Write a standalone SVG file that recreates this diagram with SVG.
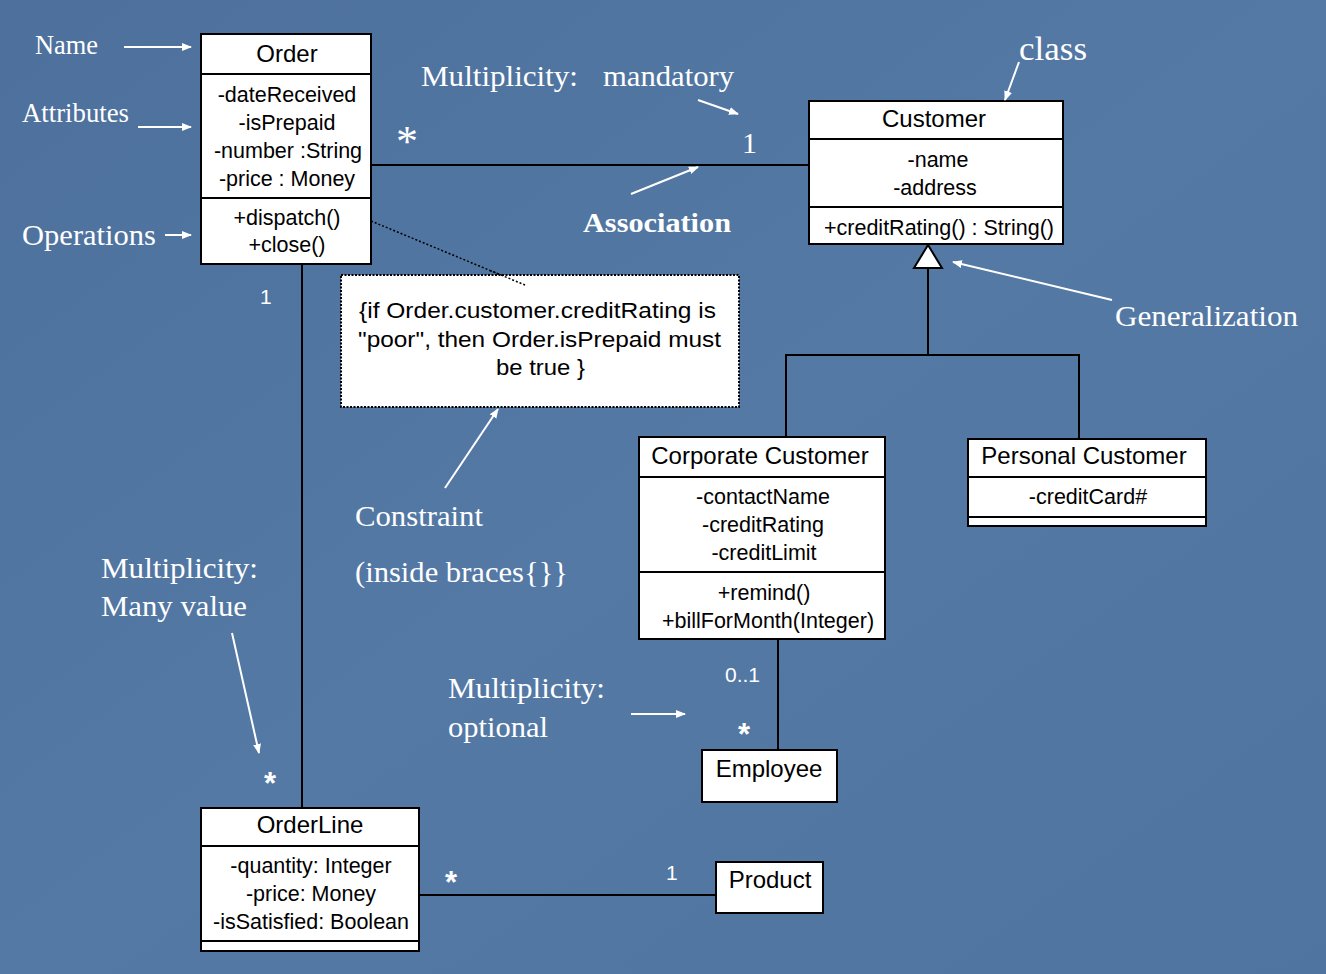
<svg xmlns="http://www.w3.org/2000/svg" width="1326" height="974" viewBox="0 0 1326 974">
<style>
.box{fill:#fff;stroke:#000;stroke-width:2}
.div{stroke:#000;stroke-width:2}
.t{font-family:"Liberation Sans",Arial,sans-serif;font-size:21.5px;fill:#000;text-anchor:middle}
.n{font-size:24px}
.lbl{font-family:"Liberation Serif","Times New Roman",serif;fill:#fff}
.m{font-family:"Liberation Sans",Arial,sans-serif;fill:#fff;font-size:21px}
.ast{font-family:"Liberation Sans",Arial,sans-serif;fill:#fff;font-size:31px;font-weight:bold}
.con{stroke:#000;stroke-width:2;fill:none}
.ann{stroke:#fff;stroke-width:2;fill:none;marker-end:url(#wa)}
</style>
<defs>
<marker id="wa" viewBox="0 0 10 10" refX="9" refY="5" markerWidth="5" markerHeight="5" orient="auto" markerUnits="strokeWidth">
<path d="M0,1 L10,5 L0,9 z" fill="#fff"/>
</marker>
<linearGradient id="bg" x1="0" y1="0" x2="1" y2="1">
<stop offset="0" stop-color="#4d709c"/>
<stop offset="0.5" stop-color="#5479a5"/>
<stop offset="1" stop-color="#4f74a0"/>
</linearGradient>
</defs>
<rect x="0" y="0" width="1326" height="974" fill="url(#bg)"/>

<g id="connectors">
<line class="con" x1="371" y1="165" x2="809" y2="165"/>
<line class="con" x1="302" y1="264" x2="302" y2="808"/>
<line class="con" x1="419" y1="895" x2="716" y2="895"/>
<line class="con" x1="778" y1="639" x2="778" y2="750"/>
<polyline class="con" points="786,437 786,355 1079,355 1079,439"/>
<line class="con" x1="928" y1="355" x2="928" y2="268"/>
<polygon points="928,245 914,268 942,268" fill="#fff" stroke="#000" stroke-width="2"/>
<line x1="371" y1="221" x2="525" y2="285" stroke="#000" stroke-width="1.5" stroke-dasharray="2,2"/>
</g>

<g id="note">
<rect x="341" y="275" width="398" height="132" fill="#fff" stroke="#000" stroke-width="2" stroke-dasharray="2,1.5"/>
<line x1="490" y1="270.5" x2="525" y2="285" stroke="#000" stroke-width="1.5" stroke-dasharray="2,2"/>
<text class="t" x="537.5" y="318" font-size="22" textLength="357" lengthAdjust="spacingAndGlyphs">{if Order.customer.creditRating is</text>
<text class="t" x="539.5" y="347" font-size="22" textLength="363" lengthAdjust="spacingAndGlyphs">"poor", then Order.isPrepaid must</text>
<text class="t" x="540.5" y="375" font-size="22" textLength="89" lengthAdjust="spacingAndGlyphs">be true }</text>
</g>

<g id="Order">
<rect class="box" x="201" y="34" width="170" height="230"/>
<line class="div" x1="201" y1="74" x2="371" y2="74"/>
<line class="div" x1="201" y1="198" x2="371" y2="198"/>
<text class="t n" x="287" y="62">Order</text>
<text class="t" x="287" y="102">-dateReceived</text>
<text class="t" x="287" y="130">-isPrepaid</text>
<text class="t" x="288" y="158">-number :String</text>
<text class="t" x="287" y="186">-price : Money</text>
<text class="t" x="287" y="225">+dispatch()</text>
<text class="t" x="287" y="252">+close()</text>
</g>

<g id="Customer">
<rect class="box" x="809" y="101" width="254" height="143"/>
<line class="div" x1="809" y1="139" x2="1063" y2="139"/>
<line class="div" x1="809" y1="207" x2="1063" y2="207"/>
<text class="t n" x="934" y="127">Customer</text>
<text class="t" x="938" y="167">-name</text>
<text class="t" x="935" y="195">-address</text>
<text class="t" x="939" y="235">+creditRating() : String()</text>
</g>

<g id="CorporateCustomer">
<rect class="box" x="639" y="437" width="246" height="202"/>
<line class="div" x1="639" y1="477" x2="885" y2="477"/>
<line class="div" x1="639" y1="572" x2="885" y2="572"/>
<text class="t n" x="760" y="464">Corporate Customer</text>
<text class="t" x="763" y="504">-contactName</text>
<text class="t" x="763" y="532">-creditRating</text>
<text class="t" x="764" y="560">-creditLimit</text>
<text class="t" x="764" y="600">+remind()</text>
<text class="t" x="768" y="628">+billForMonth(Integer)</text>
</g>

<g id="PersonalCustomer">
<rect class="box" x="968" y="439" width="238" height="87"/>
<line class="div" x1="968" y1="477" x2="1206" y2="477"/>
<line class="div" x1="968" y1="517" x2="1206" y2="517"/>
<text class="t n" x="1084" y="464">Personal Customer</text>
<text class="t" x="1088" y="504">-creditCard#</text>
</g>

<g id="Employee">
<rect class="box" x="702" y="750" width="135" height="52"/>
<text class="t n" x="769" y="777">Employee</text>
</g>

<g id="OrderLine">
<rect class="box" x="201" y="808" width="218" height="143"/>
<line class="div" x1="201" y1="846" x2="419" y2="846"/>
<line class="div" x1="201" y1="941" x2="419" y2="941"/>
<text class="t n" x="310" y="833">OrderLine</text>
<text class="t" x="311" y="873">-quantity: Integer</text>
<text class="t" x="311" y="901">-price: Money</text>
<text class="t" x="311" y="929">-isSatisfied: Boolean</text>
</g>

<g id="Product">
<rect class="box" x="716" y="862" width="107" height="51"/>
<text class="t n" x="770" y="888">Product</text>
</g>

<g id="multiplicities">
<text class="lbl" x="396" y="156" font-size="44">*</text>
<text class="lbl" x="742" y="153" font-size="30">1</text>
<text class="m" x="260" y="304">1</text>
<text class="ast" x="264" y="794">*</text>
<text class="m" x="725" y="682">0..1</text>
<text class="ast" x="738" y="745">*</text>
<text class="ast" x="445" y="893">*</text>
<text class="m" x="666" y="880">1</text>
</g>

<g id="annotations">
<text class="lbl" x="35" y="54" font-size="27" textLength="63" lengthAdjust="spacingAndGlyphs">Name</text>
<text class="lbl" x="22" y="122" font-size="27" textLength="107" lengthAdjust="spacingAndGlyphs">Attributes</text>
<text class="lbl" x="22" y="245" font-size="30" textLength="134" lengthAdjust="spacingAndGlyphs">Operations</text>
<line class="ann" x1="124" y1="47" x2="191" y2="47"/>
<line class="ann" x1="138" y1="127" x2="191" y2="127"/>
<line class="ann" x1="165" y1="235" x2="191" y2="235"/>
<text class="lbl" x="421" y="86" font-size="30" textLength="157" lengthAdjust="spacingAndGlyphs">Multiplicity:</text>
<text class="lbl" x="603" y="86" font-size="30" textLength="131" lengthAdjust="spacingAndGlyphs">mandatory</text>
<line class="ann" x1="698" y1="100" x2="738" y2="114"/>
<line class="ann" x1="631" y1="194" x2="698" y2="167"/>
<text class="lbl" x="583" y="232" font-size="28" font-weight="bold" textLength="148" lengthAdjust="spacingAndGlyphs">Association</text>
<text class="lbl" x="1019" y="60" font-size="33" textLength="68" lengthAdjust="spacingAndGlyphs">class</text>
<line class="ann" x1="1019" y1="62" x2="1005" y2="100"/>
<line class="ann" x1="1112" y1="300" x2="953" y2="262"/>
<text class="lbl" x="1115" y="326" font-size="30" textLength="183" lengthAdjust="spacingAndGlyphs">Generalization</text>
<line class="ann" x1="445" y1="488" x2="498" y2="409"/>
<text class="lbl" x="355" y="526" font-size="30" textLength="128" lengthAdjust="spacingAndGlyphs">Constraint</text>
<text class="lbl" x="355" y="582" font-size="30" textLength="213" lengthAdjust="spacingAndGlyphs">(inside braces{}}</text>
<text class="lbl" x="101" y="578" font-size="30" textLength="157" lengthAdjust="spacingAndGlyphs">Multiplicity:</text>
<text class="lbl" x="101" y="616" font-size="30" textLength="146" lengthAdjust="spacingAndGlyphs">Many value</text>
<line class="ann" x1="232" y1="633" x2="259" y2="753"/>
<text class="lbl" x="448" y="698" font-size="30" textLength="157" lengthAdjust="spacingAndGlyphs">Multiplicity:</text>
<text class="lbl" x="448" y="737" font-size="30" textLength="100" lengthAdjust="spacingAndGlyphs">optional</text>
<line class="ann" x1="631" y1="714" x2="685" y2="714"/>
</g>
</svg>
